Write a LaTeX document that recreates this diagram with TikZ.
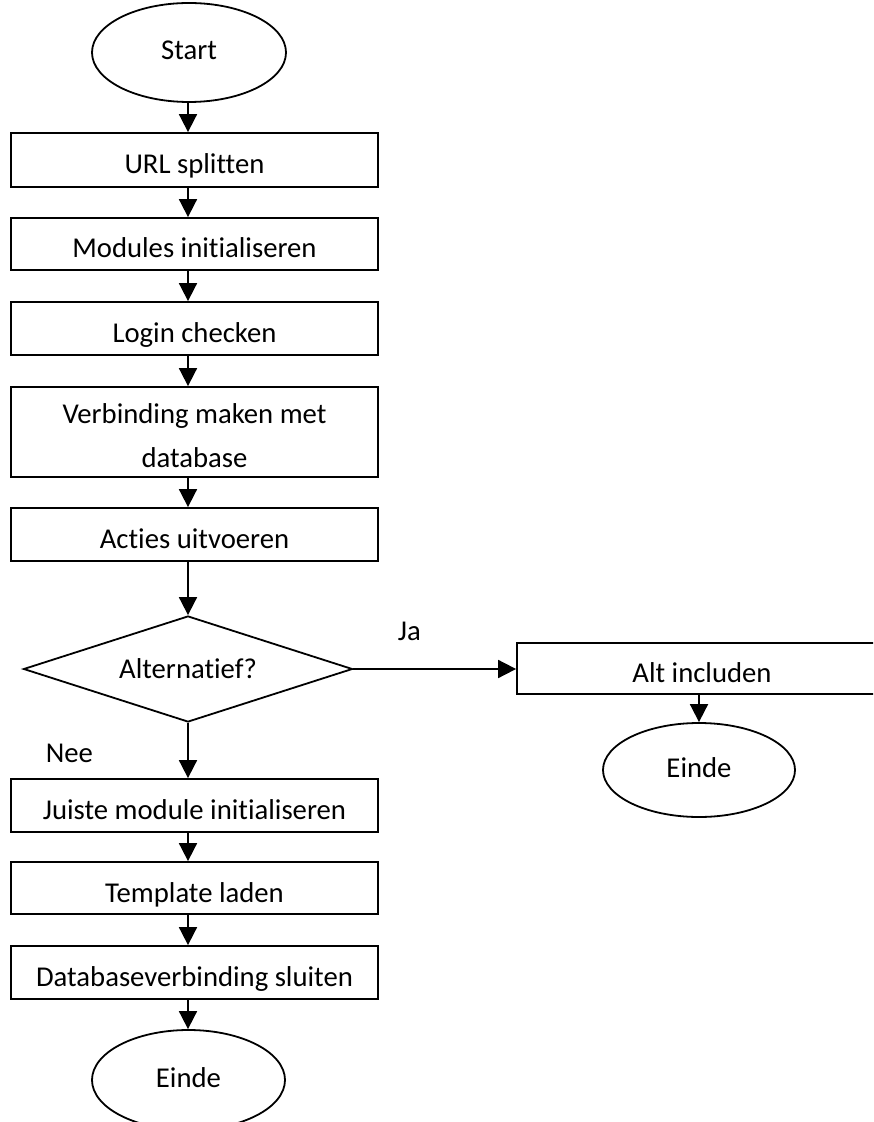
\documentclass[tikz,border=0pt]{standalone}
\usepackage{fontspec}
\setmainfont{Carlito}[Ligatures={NoCommon}]
\usetikzlibrary{shapes.geometric,arrows.meta}
\begin{document}
\begin{tikzpicture}[x=0.5pt,y=-0.5pt,
  line width=0.9pt,
  every node/.style={font=\fontsize{14.35pt}{22pt}\selectfont},
  stepbox/.style={draw, rectangle, minimum width=183.5pt, inner sep=0pt,
    text height=14pt, text depth=0pt, align=center},
  terminal/.style={draw, ellipse, inner sep=0pt, text height=7pt, text depth=0pt},
  choice/.style={draw, diamond, aspect=3, inner sep=0pt, text height=9pt, text depth=0pt},
  arr/.style={-{Triangle[length=9pt,width=9pt]}},
  lbl/.style={anchor=base west, inner sep=0pt}]
\useasboundingbox (0,0) rectangle (873,1122);
\clip (0,0) rectangle (873,1122);

% main column
\node[terminal, minimum width=97pt, minimum height=49.5pt] (start) at (189,52.5) {Start};
\node[stepbox, minimum height=27pt]   (url)    at (194.5,160)   {URL splitten};
\node[stepbox, minimum height=26pt]   (mod)    at (194.5,244)   {Modules initialiseren};
\node[stepbox, minimum height=26.5pt] (login)  at (194.5,328.5) {Login checken};
\node[stepbox, minimum height=45pt, text height=35pt] (verb) at (194.5,432) {Verbinding maken met\\database};
\node[stepbox, minimum height=26.5pt] (acties) at (194.5,534.5) {Acties uitvoeren};
\node[choice, minimum width=164.5pt, minimum height=53pt] (dia) at (188,669) {Alternatief?};
\node[stepbox, minimum height=26.5pt] (juiste) at (194.5,805.5) {Juiste module initialiseren};
\node[stepbox, minimum height=26pt]   (tmpl)   at (194.5,888)   {Template laden};
\node[stepbox, minimum height=26.5pt] (db)     at (194.5,972.5) {Databaseverbinding sluiten};
\node[terminal, minimum width=96.5pt, minimum height=50pt] (end1) at (188.5,1080) {Einde};

% alternative branch
\node[stepbox, minimum width=185pt, minimum height=25.5pt] (alt) at (702,668.5) {Alt includen};
\node[terminal, minimum width=96pt, minimum height=47pt] (end2) at (699,770) {Einde};

% branch labels
\node[lbl] (ja)  at (397,640) {Ja};
\node[lbl] (nee) at (45,762)  {Nee};

% connectors run down a common vertical axis
\coordinate (axis) at (188,0);
\draw[arr] (start.south -| axis) -- (url.north -| axis);
\draw[arr] (url.south -| axis) -- (mod.north -| axis);
\draw[arr] (mod.south -| axis) -- (login.north -| axis);
\draw[arr] (login.south -| axis) -- (verb.north -| axis);
\draw[arr] (verb.south -| axis) -- (acties.north -| axis);
\draw[arr] (acties.south -| axis) -- (dia.north);
\draw[arr] (dia.south) -- (juiste.north -| axis);
\draw[arr] (juiste.south -| axis) -- (tmpl.north -| axis);
\draw[arr] (tmpl.south -| axis) -- (db.north -| axis);
\draw[arr] (db.south -| axis) -- (end1.north -| axis);
\draw[arr] (dia.east) -- (dia.east -| alt.west);
\draw[arr] (end2.north |- alt.south) -- (end2.north);
\end{tikzpicture}
\end{document}
